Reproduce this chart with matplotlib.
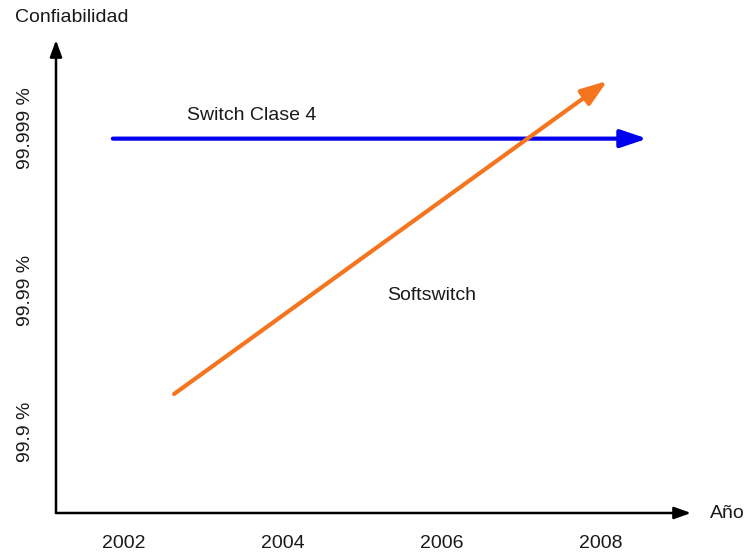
import matplotlib
matplotlib.use("Agg")
import matplotlib.pyplot as plt

# ---------- DATA ----------
years = [2002, 2004, 2006, 2008]
year_labels = ["2002", "2004", "2006", "2008"]

# y axis is a qualitative "number of nines" scale
nines_pos = [3.0, 3.93, 5.0]
nines_labels = ["99.9 %", "99.99 %", "99.999 %"]

switch_x = [2001.86, 2008.58]
switch_y = [4.93, 4.93]

soft_x = [2002.63, 2008.08]
soft_y = [3.25, 5.31]

plt.rcParams["font.family"] = ["Liberation Sans", "DejaVu Sans"]

# ---------- FIGURE ----------
fig = plt.figure(figsize=(7.45, 5.53), dpi=100)
ax = fig.add_axes([56 / 745, 40 / 553, 635 / 745, 473 / 553])

ax.set_xlim(2001.145, 2009.132)
ax.set_ylim(2.467, 5.579)
for s in ax.spines.values():
    s.set_visible(False)

ax.set_xticks(years)
ax.set_xticklabels(year_labels, fontsize=14, color="#1a1a1a")
ax.set_yticks(nines_pos)
ax.set_yticklabels(nines_labels, fontsize=14, color="#1a1a1a", rotation=90, va="center")
ax.tick_params(axis="x", length=0, pad=15.5)
ax.tick_params(axis="y", length=0, pad=16)

# axes with arrow heads
axis_arrow = dict(arrowstyle="-|>,head_length=0.5,head_width=0.18", color="black",
                  lw=1.8, shrinkA=0, shrinkB=0, mutation_scale=20)
ax.annotate("", xy=(0, 1), xytext=(0, 0), xycoords="axes fraction",
            arrowprops=axis_arrow, annotation_clip=False)
ax.annotate("", xy=(1, 0), xytext=(0, 0), xycoords="axes fraction",
            arrowprops=axis_arrow, annotation_clip=False)

# series arrows
ax.annotate("", xy=(switch_x[1], switch_y[1]), xytext=(switch_x[0], switch_y[0]),
            arrowprops=dict(arrowstyle="-|>,head_length=0.8,head_width=0.27",
                            color="#0000F0", lw=3, shrinkA=0, shrinkB=0,
                            mutation_scale=20, capstyle="round"))
ax.annotate("", xy=(soft_x[1], soft_y[1]), xytext=(soft_x[0], soft_y[0]),
            arrowprops=dict(arrowstyle="-|>,head_length=0.8,head_width=0.28",
                            color="#F5751F", lw=3, shrinkA=0, shrinkB=0,
                            mutation_scale=20, capstyle="round"))

ax.text(2002.79, 5.08, "Switch Clase 4", fontsize=14, color="#1a1a1a",
        ha="left", va="center")
ax.text(2005.87, 3.895, "Softswitch", fontsize=14, color="#1a1a1a",
        ha="center", va="center")

fig.text(15 / 745, 1 - 18 / 553, "Confiabilidad", fontsize=14, color="#1a1a1a",
         ha="left", va="center")
fig.text(710 / 745, 1 - 513 / 553, "Año", fontsize=14, color="#1a1a1a",
         ha="left", va="center")

fig.savefig("out.png", dpi=100, facecolor="white")
